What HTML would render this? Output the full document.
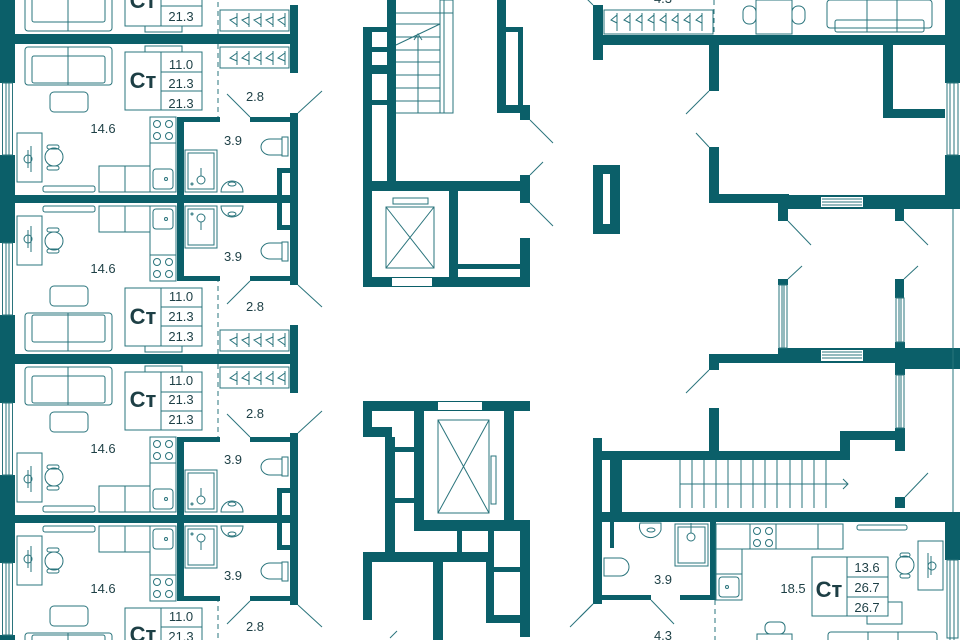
<!DOCTYPE html>
<html><head><meta charset="utf-8"><style>
html,body{margin:0;padding:0;background:#fff;width:960px;height:640px;overflow:hidden}
svg{display:block}
text{font-family:"Liberation Sans",sans-serif;fill:#1d3f45}
</style></head><body>
<svg width="960" height="640" viewBox="0 0 960 640" xmlns="http://www.w3.org/2000/svg">
<defs>
<g id="uA">
 <g fill="#0b5f69">
  <rect x="0" y="36" width="298" height="8"/>
  <rect x="0" y="195" width="298" height="8"/>
  <rect x="0" y="44" width="15" height="39"/>
  <rect x="0" y="155" width="15" height="40"/>
  <rect x="177" y="117" width="7" height="78"/>
  <rect x="184" y="117" width="36" height="5"/>
  <rect x="250" y="117" width="40" height="5"/>
  <rect x="290" y="113" width="8" height="82"/>
  <rect x="290" y="36" width="8" height="37"/>
  <rect x="277" y="168" width="13" height="27"/>
 </g>
 <rect x="282" y="173" width="8" height="22" fill="#fff"/>
 <g fill="none" stroke="#2a747c" stroke-width="1">
  <rect x="2.5" y="83" width="10" height="72"/><line x1="6" y1="83" x2="6" y2="155"/><line x1="9" y1="83" x2="9" y2="155"/>
  <rect x="25" y="47" width="87" height="38" rx="3"/><rect x="32" y="56" width="73" height="27" rx="2"/><line x1="68" y1="47" x2="68" y2="85"/>
  <rect x="50" y="92" width="38" height="20" rx="4"/>
  <rect x="125" y="52" width="77" height="58"/><line x1="161" y1="52" x2="161" y2="110"/><line x1="161" y1="72" x2="202" y2="72"/><line x1="161" y1="91" x2="202" y2="91"/>
  <rect x="145" y="46" width="37" height="6"/>
  <rect x="150" y="117" width="26" height="26"/><circle cx="157" cy="124" r="3.5"/><circle cx="169" cy="124" r="3.5"/><circle cx="157" cy="136" r="3.5"/><circle cx="169" cy="136" r="3.5"/>
  <rect x="150" y="143" width="26" height="49"/><rect x="99" y="166" width="51" height="26"/><line x1="125" y1="166" x2="125" y2="192"/>
  <rect x="153" y="169" width="20" height="20" rx="3"/><circle cx="166" cy="179" r="1.5"/>
  <rect x="17" y="133" width="25" height="49"/><path d="M31,146 L31,172 M28,150 L28,168"/><circle cx="28" cy="159" r="4"/>
  <circle cx="54" cy="157" r="9"/><rect x="47" y="145" width="12" height="4" rx="2"/><rect x="47" y="166" width="12" height="4" rx="2"/>
  <rect x="43" y="186" width="52" height="6" rx="2"/>
  <rect x="185" y="150" width="32" height="42"/><rect x="188" y="153" width="26" height="36"/><circle cx="201" cy="180" r="4"/><line x1="201" y1="176" x2="201" y2="168"/><circle cx="192" cy="184" r="1"/>
  <path d="M221,192 A11,11 0 0 1 243,192 Z"/><ellipse cx="232" cy="184" rx="4" ry="2"/>
  <path d="M282,139 L270,139 A9,8 0 0 0 270,155 L282,155 Z"/><rect x="282" y="137" width="6" height="19"/>
  <rect x="220" y="47" width="69" height="21"/>
  <path d="M237,51v14M237,53l-7,5l7,3 M249,51v14M249,53l-7,5l7,3 M261,51v14M261,53l-7,5l7,3 M273,51v14M273,53l-7,5l7,3 M285,51v14M285,53l-7,5l7,3"/>
  <line x1="218" y1="44" x2="218" y2="117" stroke-dasharray="5,4"/>
  <line x1="227" y1="94" x2="250" y2="117"/><line x1="298" y1="113" x2="322" y2="91"/>
 </g>
</g>
<g id="pair"><use href="#uA"/><use href="#uA" transform="translate(0,398) scale(1,-1)"/></g>
</defs>
<use href="#pair" transform="translate(0,-320)"/>
<use href="#pair"/>
<use href="#pair" transform="translate(0,320)"/>

<!-- left unit labels -->
<g font-size="13" text-anchor="middle">
<text x="181" y="-1">21.3</text><text x="181" y="21">21.3</text>
<text x="181" y="69">11.0</text><text x="181" y="88">21.3</text><text x="181" y="108">21.3</text>
<text x="103" y="133">14.6</text><text x="233" y="145">3.9</text><text x="255" y="101">2.8</text>
<text x="181" y="301">11.0</text><text x="181" y="321">21.3</text><text x="181" y="341">21.3</text>
<text x="103" y="273">14.6</text><text x="233" y="261">3.9</text><text x="255" y="311">2.8</text>
<text x="181" y="385">11.0</text><text x="181" y="404">21.3</text><text x="181" y="424">21.3</text>
<text x="103" y="453">14.6</text><text x="233" y="464">3.9</text><text x="255" y="418">2.8</text>
<text x="181" y="621">11.0</text><text x="181" y="641">21.3</text>
<text x="103" y="593">14.6</text><text x="233" y="580">3.9</text><text x="255" y="631">2.8</text>
</g>
<g font-size="22" font-weight="bold" text-anchor="middle">
<text x="143" y="8">Ст</text><text x="143" y="88">Ст</text><text x="143" y="324">Ст</text><text x="143" y="407">Ст</text><text x="143" y="642">Ст</text>
</g>

<!-- central core -->
<g fill="#0b5f69">
 <rect x="387" y="0" width="9" height="183"/>
 <rect x="363" y="27" width="9" height="260"/>
 <rect x="372" y="27" width="15" height="5"/><rect x="372" y="47" width="15" height="5"/><rect x="372" y="65" width="15" height="9"/><rect x="372" y="100" width="15" height="5"/>
 <rect x="497" y="0" width="9" height="113"/><rect x="506" y="27" width="17" height="86"/>
 <rect x="520" y="105" width="10" height="15"/>
 <rect x="363" y="181" width="167" height="10"/><rect x="520" y="175" width="10" height="28"/>
 <rect x="449" y="191" width="9" height="86"/>
 <rect x="363" y="277" width="167" height="10"/><rect x="520" y="238" width="10" height="49"/>
 <rect x="458" y="264" width="62" height="5"/>
 <rect x="593" y="165" width="27" height="69"/>
 <!-- lower core -->
 <rect x="363" y="401" width="167" height="10"/>
 <rect x="363" y="401" width="9" height="36"/><rect x="372" y="427" width="20" height="10"/>
 <rect x="385" y="437" width="10" height="115"/><rect x="395" y="447" width="19" height="5"/><rect x="395" y="498" width="19" height="5"/>
 <rect x="414" y="411" width="10" height="109"/><rect x="504" y="411" width="10" height="109"/>
 <rect x="414" y="520" width="116" height="11"/><rect x="520" y="520" width="10" height="117"/>
 <rect x="457" y="531" width="5" height="21"/><rect x="488" y="531" width="6" height="21"/>
 <rect x="363" y="552" width="131" height="10"/><rect x="363" y="552" width="9" height="68"/>
 <rect x="433" y="562" width="10" height="78"/><rect x="486" y="562" width="8" height="60"/>
 <rect x="494" y="567" width="26" height="5"/><rect x="486" y="615" width="34" height="8"/>
</g>
<g fill="#fff"><rect x="506" y="32" width="12" height="73"/><rect x="392" y="278" width="40" height="8"/><rect x="603" y="174" width="7" height="50"/><rect x="438" y="402" width="44" height="8"/></g>
<g fill="none" stroke="#2a747c" stroke-width="1">
 <path d="M396,13H453M396,24H440M396,37H440M396,50H440M396,62H440M396,75H440M396,88H440M396,101H440M396,113H453"/>
 <line x1="418" y1="36" x2="418" y2="113"/><path d="M414,40L418,34L422,40"/><line x1="396" y1="45" x2="440" y2="24"/>
 <rect x="440" y="0" width="13" height="113"/><line x1="444" y1="0" x2="444" y2="113"/>
 <line x1="530" y1="120" x2="553" y2="143"/><line x1="530" y1="175" x2="543" y2="162"/><line x1="530" y1="203" x2="553" y2="226"/>
 <rect x="386" y="207" width="48" height="61"/><path d="M386,207L434,268M434,207L386,268"/><rect x="393" y="198" width="35" height="6"/>
 <rect x="438" y="420" width="51" height="93"/><path d="M438,420L489,513M489,420L438,513"/><rect x="491" y="456" width="5" height="48"/>
 <line x1="390" y1="638" x2="397" y2="631"/><line x1="570" y1="627" x2="593" y2="604"/>
</g>

<!-- right side -->
<g fill="#0b5f69">
 <rect x="593" y="5" width="10" height="55"/>
 <rect x="593" y="35" width="367" height="10"/>
 <rect x="945" y="0" width="15" height="83"/><rect x="945" y="155" width="15" height="40"/>
 <rect x="709" y="45" width="10" height="46"/><rect x="709" y="147" width="10" height="56"/>
 <rect x="883" y="45" width="10" height="73"/><rect x="893" y="109" width="52" height="9"/>
 <rect x="709" y="194" width="80" height="9"/><rect x="788" y="195" width="172" height="14"/>
 <rect x="778" y="203" width="10" height="18"/><rect x="895" y="209" width="9" height="12"/>
 <rect x="778" y="279" width="10" height="6"/><rect x="895" y="279" width="9" height="19"/>
 <rect x="709" y="354" width="80" height="9"/><rect x="778" y="348" width="127" height="15"/><rect x="895" y="342" width="10" height="33"/><rect x="905" y="348" width="55" height="21"/>
 <rect x="895" y="428" width="10" height="23"/>
 <rect x="709" y="354" width="10" height="16"/><rect x="709" y="408" width="10" height="43"/>
 <rect x="840" y="431" width="10" height="20"/><rect x="850" y="431" width="45" height="9"/>
 <rect x="593" y="451" width="257" height="9"/>
 <rect x="593" y="438" width="9" height="166"/><rect x="610" y="460" width="12" height="52"/>
 <rect x="895" y="497" width="10" height="11"/>
 <rect x="593" y="512" width="367" height="10"/>
 <rect x="945" y="513" width="15" height="47"/>
 <rect x="710" y="522" width="6" height="78"/><rect x="610" y="522" width="4" height="26"/>
 <rect x="602" y="595" width="49" height="5"/><rect x="680" y="595" width="30" height="5"/>
</g>
<g fill="#fff"><rect x="821" y="197" width="42" height="10"/><rect x="821" y="350" width="42" height="11"/></g>
<g fill="none" stroke="#2a747c" stroke-width="1">
 <path d="M822,199H862M822,202H862M822,205H862M822,352H862M822,355H862M822,358H862"/>
 <rect x="947" y="83" width="11" height="72"/><path d="M950,83V155M954,83V155"/>
 <rect x="947" y="560" width="11" height="78"/><path d="M950,560V640M954,560V640"/>
 <rect x="779" y="285" width="8" height="63"/><path d="M782,285V348M784,285V348"/>
 <rect x="896" y="298" width="8" height="44"/><path d="M899,298V342M901,298V342"/>
 <rect x="896" y="375" width="8" height="53"/><path d="M899,375V428M901,375V428"/>
 <line x1="953" y1="209" x2="953" y2="512"/>
 <line x1="709" y1="91" x2="686" y2="114"/><line x1="696" y1="133" x2="709" y2="147"/>
 <line x1="788" y1="221" x2="811" y2="245"/><line x1="904" y1="221" x2="928" y2="245"/>
 <line x1="802" y1="266" x2="788" y2="279"/><line x1="918" y1="266" x2="904" y2="279"/>
 <line x1="709" y1="370" x2="686" y2="393"/><line x1="905" y1="497" x2="928" y2="473"/>
 <line x1="593" y1="5" x2="582" y2="-6"/>
 <rect x="604" y="10" width="109" height="24"/>
 <path d="M617,13v18M617,15l-6,5l6,3 M630,13v18M630,15l-6,5l6,3 M642,13v18M642,15l-6,5l6,3 M654,13v18M654,15l-6,5l6,3 M666,13v18M666,15l-6,5l6,3 M678,13v18M678,15l-6,5l6,3 M690,13v18M690,15l-6,5l6,3 M702,13v18M702,15l-6,5l6,3"/>
 <line x1="714" y1="0" x2="714" y2="34" stroke-dasharray="5,4"/>
 <rect x="756" y="0" width="36" height="34"/><rect x="743" y="6" width="13" height="18" rx="6"/><rect x="792" y="6" width="13" height="18" rx="6"/>
 <rect x="827" y="0" width="105" height="28" rx="3"/><rect x="835" y="20" width="89" height="12" rx="2"/><path d="M867,0V32M897,0V32"/>
 <!-- stairs -->
 <path d="M680,460V508M692,460V508M704,460V508M716,460V508M728,460V508M741,460V508M753,460V508M765,460V508M777,460V508M790,460V508M802,460V508M814,460V508M826,460V508"/>
 <line x1="680" y1="484" x2="848" y2="484"/><path d="M843,479L848,484L843,489"/>
 <!-- bathroom -->
 <path d="M640,523 A11,11 0 0 0 661,530 L661,523 Z"/><ellipse cx="651" cy="530" rx="4" ry="2"/>
 <rect x="675" y="524" width="33" height="42"/><rect x="678" y="527" width="27" height="36"/><circle cx="691" cy="537" r="4"/><line x1="691" y1="523" x2="691" y2="533"/>
 <path d="M604,558 L620,558 A9,9 0 0 1 620,576 L604,576 Z"/>
 <line x1="651" y1="600" x2="674" y2="624"/><line x1="593" y1="604" x2="580" y2="617"/>
 <!-- kitchen -->
 <rect x="716" y="524" width="127" height="25"/><line x1="750" y1="524" x2="750" y2="549"/><line x1="776" y1="524" x2="776" y2="549"/><line x1="818" y1="524" x2="818" y2="549"/>
 <circle cx="757" cy="531" r="3.5"/><circle cx="769" cy="531" r="3.5"/><circle cx="757" cy="543" r="3.5"/><circle cx="769" cy="543" r="3.5"/>
 <path d="M716,549V600H742V549"/><line x1="716" y1="574" x2="742" y2="574"/><rect x="719" y="577" width="20" height="20" rx="3"/><circle cx="727" cy="587" r="1.5"/>
 <line x1="715" y1="600" x2="715" y2="640" stroke-dasharray="5,4"/>
 <rect x="812" y="557" width="76" height="59"/><line x1="847" y1="557" x2="847" y2="616"/><line x1="847" y1="577" x2="888" y2="577"/><line x1="847" y1="597" x2="888" y2="597"/>
 <rect x="857" y="525" width="50" height="5" rx="2"/>
 <rect x="918" y="541" width="25" height="49"/><path d="M928,553V578M931,556V575"/><circle cx="932" cy="566" r="4"/>
 <circle cx="905" cy="565" r="9"/><rect x="900" y="553" width="10" height="4" rx="2"/><rect x="900" y="574" width="10" height="4" rx="2"/>
 <path d="M888,602H902V624H867V616"/>
 <rect x="828" y="632" width="109" height="12" rx="3"/><path d="M868,632V640M898,632V640"/>
 <rect x="757" y="634" width="35" height="10"/><rect x="765" y="622" width="20" height="12" rx="5"/>
</g>
<g font-size="13" text-anchor="middle">
 <text x="663" y="584">3.9</text><text x="663" y="640">4.3</text><text x="793" y="593">18.5</text>
 <text x="867" y="572">13.6</text><text x="867" y="592">26.7</text><text x="867" y="612">26.7</text>
 <text x="663" y="3">4.3</text>
</g>
<text x="829" y="597" font-size="22" font-weight="bold" text-anchor="middle">Ст</text>
</svg>
</body></html>
